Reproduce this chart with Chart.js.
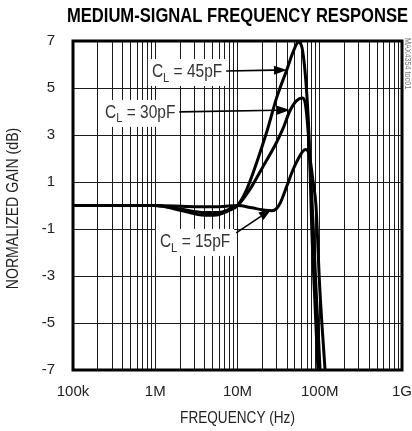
<!DOCTYPE html>
<html>
<head>
<meta charset="utf-8">
<script src="https://cdn.jsdelivr.net/npm/chart.js@4/dist/chart.umd.min.js"></script>
<style>
  html, body { margin: 0; padding: 0; background: #fff; }
  #wrap { width: 412px; height: 431px; position: relative; }
</style>
</head>
<body>
<div id="wrap"><canvas id="myChart"></canvas></div>
<script>
'use strict';

// data (Hz, dB)
let freq45 = [1e5, 1e6, 2e6, 4e6, 6e6, 8e6, 10e6, 13e6, 17e6, 23e6, 30e6, 40e6, 47e6, 55e6, 60e6, 65e6, 70e6, 74e6, 77e6, 80e6, 87e6, 95e6];
let gain45 = [0, 0, -0.2, -0.42, -0.38, -0.2, 0, 0.7, 1.8, 3.2, 4.6, 5.8, 6.5, 6.95, 6.8, 6.0, 4.6, 3.0, 1.0, -1.0, -4.0, -7];

let freq30 = [1e5, 1e6, 2e6, 4e6, 6e6, 8e6, 10e6, 14e6, 20e6, 30e6, 36e6, 43e6, 52e6, 62e6, 67e6, 72e6, 77e6, 81e6, 90e6, 101e6];
let gain30 = [0, 0, -0.15, -0.3, -0.3, -0.15, 0, 0.66, 1.6, 2.7, 3.3, 4.0, 4.45, 4.57, 4.3, 3.2, 1.5, 0, -3.5, -7];

let freq15 = [1e5, 1e6, 3e6, 6e6, 10e6, 15e6, 20e6, 26e6, 30e6, 33e6, 40e6, 47e6, 55e6, 62e6, 68e6, 76e6, 83e6, 90e6, 100e6, 116e6];
let gain15 = [0, 0, -0.05, -0.05, 0, -0.1, -0.18, -0.22, -0.12, 0.1, 0.85, 1.5, 2.0, 2.3, 2.38, 2.0, 1.0, 0, -3.5, -7];

let xTickValues = [1e5, 1e6, 1e7, 1e8, 1e9];
let xTickLabels = ['100k', '1M', '10M', '100M', '1G'];
let yTickValues = [-7, -5, -3, -1, 1, 3, 5, 7];

// label notes: text position and arrow tip in data units
let notes = [
    { text: '45pF', at: [0.91e6, 5.68], tip: [40e6, 5.77], from: 'right' },
    { text: '30pF', at: [0.245e6, 3.94], tip: [43.5e6, 4.06], from: 'right' },
    { text: '15pF', at: [1.14e6, -1.55], tip: [26e6, -0.15], from: 'topright' }
];

const FONT = "'Liberation Sans', Arial, sans-serif";
Chart.defaults.font.family = FONT;
Chart.defaults.color = '#000';

function toPoints(xs, ys) {
    return xs.map((v, i) => ({ x: v, y: ys[i] }));
}

function xGridTicks() {
    let out = [];
    for (let d = 0; d < xTickValues.length - 1; d++) {
        for (let k = 1; k < 10; k++) out.push({ value: xTickValues[d] * k });
    }
    out.push({ value: xTickValues[xTickValues.length - 1] });
    return out;
}

// narrow-looking text: squeeze horizontally around x
function narrowText(ctx, text, x, y, font, align, sq) {
    sq = sq || 0.8;
    ctx.save();
    ctx.font = font;
    ctx.textAlign = align || 'left';
    ctx.translate(x, y);
    ctx.scale(sq, 1);
    ctx.fillText(text, 0, 0);
    ctx.restore();
}

function measureNarrow(ctx, text, font, sq) {
    ctx.save();
    ctx.font = font;
    let w = ctx.measureText(text).width * (sq || 0.8);
    ctx.restore();
    return w;
}

function arrow(ctx, x0, y0, x1, y1) {
    let ang = Math.atan2(y1 - y0, x1 - x0);
    let len = 13, half = 4.5;
    let bx = x1 - len * Math.cos(ang), by = y1 - len * Math.sin(ang);
    ctx.beginPath();
    ctx.moveTo(x0, y0);
    ctx.lineTo(bx, by);
    ctx.lineWidth = 1.6;
    ctx.stroke();
    ctx.beginPath();
    ctx.moveTo(x1, y1);
    ctx.lineTo(bx + half * Math.sin(ang), by - half * Math.cos(ang));
    ctx.lineTo(bx - half * Math.sin(ang), by + half * Math.cos(ang));
    ctx.closePath();
    ctx.fill();
}

const decor = {
    id: 'decor',
    afterDatasetsDraw(chart) {
        let ctx = chart.ctx;
        let a = chart.chartArea;
        let sx = chart.scales.x, sy = chart.scales.y;
        let sq = 0.86;
        ctx.save();
        ctx.textBaseline = 'middle';
        notes.forEach(n => {
            let px = sx.getPixelForValue(n.at[0]);
            let py = sy.getPixelForValue(n.at[1]);
            let big = '18px ' + FONT, small = '13px ' + FONT;
            let rest = ' = ' + n.text;
            let wC = measureNarrow(ctx, 'C', big, sq);
            let wL = measureNarrow(ctx, 'L', small, sq);
            let wR = measureNarrow(ctx, rest, big, sq);
            let w = wC + wL + wR;
            ctx.fillStyle = '#fff';
            ctx.fillRect(px - 4, py - 13, w + 8, 27);
            ctx.fillStyle = '#333';
            narrowText(ctx, 'C', px, py, big, 'left', sq);
            narrowText(ctx, 'L', px + wC, py + 6, small, 'left', sq);
            narrowText(ctx, rest, px + wC + wL, py, big, 'left', sq);
            ctx.fillStyle = '#000';
            ctx.strokeStyle = '#000';
            let tx = sx.getPixelForValue(n.tip[0]);
            let ty = sy.getPixelForValue(n.tip[1]);
            if (n.from === 'right') {
                arrow(ctx, px + w + 4, py - 1, tx, ty);
            } else {
                arrow(ctx, px + w + 6, py - 9, tx, ty);
            }
        });
        // heavy frame
        ctx.lineWidth = 3;
        ctx.strokeStyle = '#000';
        ctx.strokeRect(a.left, a.top, a.right - a.left, a.bottom - a.top);
        ctx.restore();
    },
    afterDraw(chart) {
        let ctx = chart.ctx;
        let a = chart.chartArea;
        let cx = (a.left + a.right) / 2;
        ctx.save();
        ctx.textBaseline = 'middle';
        ctx.fillStyle = '#000';
        narrowText(ctx, 'MEDIUM-SIGNAL FREQUENCY RESPONSE', cx, 16, 'bold 20px ' + FONT, 'center', 0.83);
        ctx.fillStyle = '#222';
        narrowText(ctx, 'FREQUENCY (Hz)', cx, 418, '17px ' + FONT, 'center');
        ctx.save();
        ctx.translate(13, (a.top + a.bottom) / 2 + 3);
        ctx.rotate(-Math.PI / 2);
        narrowText(ctx, 'NORMALIZED GAIN (dB)', 0, 0, '17px ' + FONT, 'center', 0.83);
        ctx.restore();
        ctx.translate(a.right + 5, a.top - 3);
        ctx.rotate(Math.PI / 2);
        ctx.fillStyle = '#777';
        narrowText(ctx, 'MAX4354 toc01', 0, 0, '9px ' + FONT, 'left');
        ctx.restore();
    }
};

function lineSet(label, xs, ys) {
    return {
        label: label,
        data: toPoints(xs, ys),
        borderColor: '#000',
        borderWidth: 3,
        pointRadius: 0,
        fill: false,
        cubicInterpolationMode: 'monotone'
    };
}

let ctx = document.getElementById('myChart').getContext('2d');
let myChart = new Chart(ctx, {
    type: 'line',
    data: {
        datasets: [
            lineSet('CL = 45pF', freq45, gain45),
            lineSet('CL = 30pF', freq30, gain30),
            lineSet('CL = 15pF', freq15, gain15)
        ]
    },
    options: {
        responsive: true,
        maintainAspectRatio: false,
        animation: false,
        events: [],
        layout: { padding: { top: 41, right: 10, left: 0, bottom: 0 } },
        plugins: {
            legend: { display: false },
            tooltip: { enabled: false }
        },
        scales: {
            x: {
                type: 'logarithmic',
                min: 1e5,
                max: 1e9,
                afterBuildTicks: (axis) => { axis.ticks = xGridTicks(); },
                afterFit: (axis) => {
                    axis.height = 61;
                    axis.paddingLeft = 0;
                    axis.paddingRight = 0;
                },
                grid: { color: '#1a1a1a', lineWidth: 1, drawTicks: false },
                border: { display: false },
                ticks: {
                    autoSkip: false,
                    maxRotation: 0,
                    padding: 13,
                    font: { size: 15 },
                    color: '#222',
                    callback: (v) => {
                        let i = xTickValues.indexOf(v);
                        return i >= 0 ? xTickLabels[i] : '';
                    }
                }
            },
            y: {
                min: -7,
                max: 7,
                afterBuildTicks: (axis) => { axis.ticks = yTickValues.map(v => ({ value: v })); },
                afterFit: (axis) => {
                    axis.width = 73;
                    axis.paddingTop = 0;
                    axis.paddingBottom = 0;
                },
                grid: { color: '#1a1a1a', lineWidth: 1, drawTicks: false },
                border: { display: false },
                ticks: {
                    padding: 18,
                    font: { size: 15 },
                    color: '#222'
                }
            }
        }
    },
    plugins: [decor]
});
</script>
</body>
</html>
